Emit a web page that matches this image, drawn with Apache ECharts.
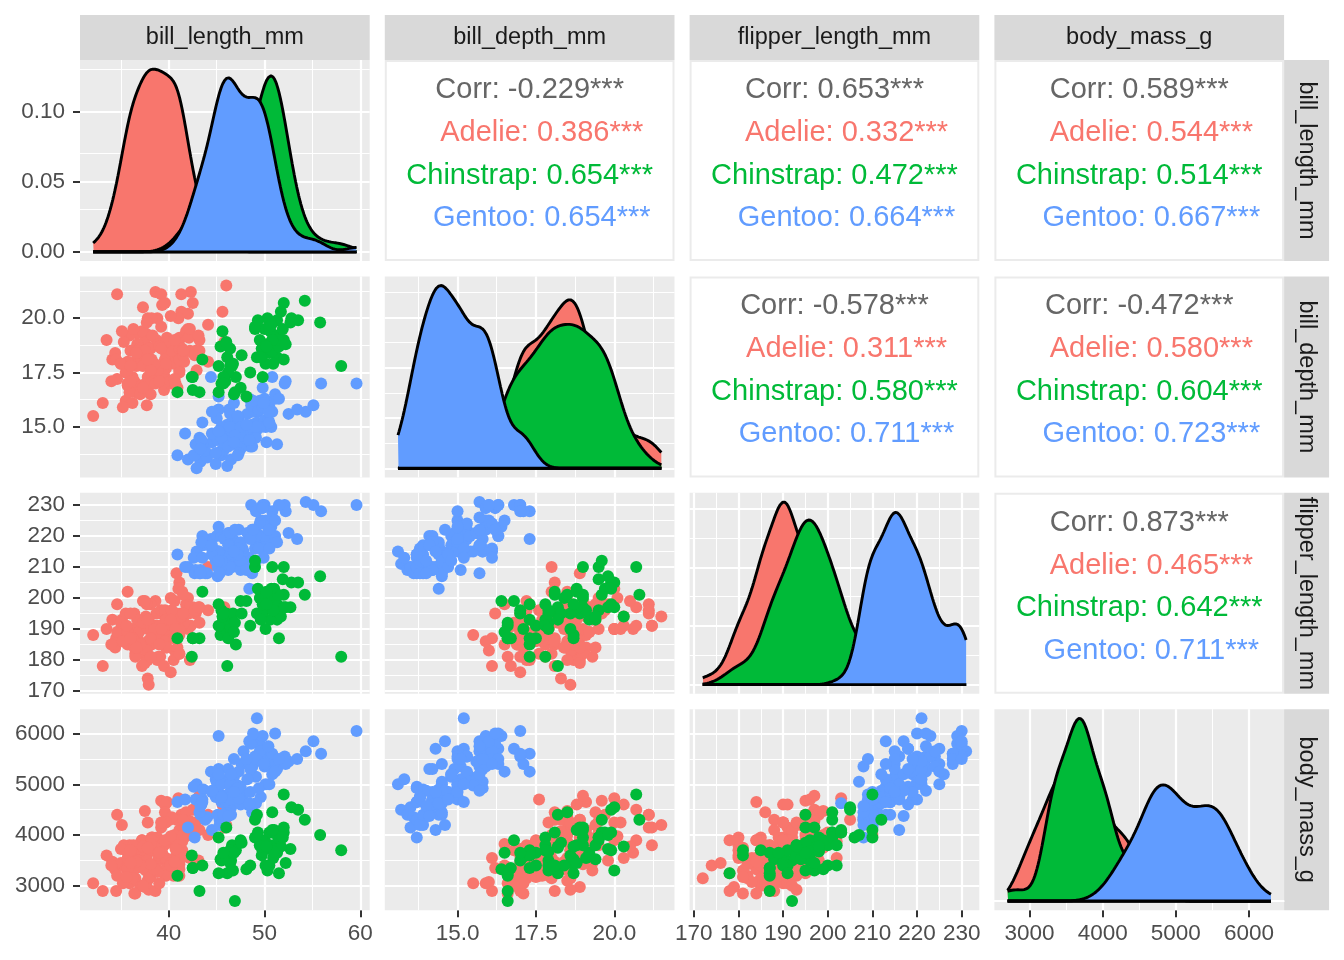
<!DOCTYPE html>
<html>
<head>
<meta charset="utf-8">
<script src="https://cdn.jsdelivr.net/npm/echarts@6/dist/echarts.min.js"></script>
<style>html,body{margin:0;padding:0;background:#fff}#c{width:1344px;height:960px}</style>
</head>
<body>
<div id="c"></div>
<script>
const FONT = '"Liberation Sans", Arial, Helvetica, sans-serif';
const VARS = ['bill_length_mm', 'bill_depth_mm', 'flipper_length_mm', 'body_mass_g'];
const SPECIES = ['Adelie', 'Chinstrap', 'Gentoo'];
const COLORS = { Adelie: '#F8766D', Chinstrap: '#00BA38', Gentoo: '#619CFF' };

// ---- Adelie ----
const adelieBillLength = [39.1,39.5,40.3,36.7,39.3,38.9,39.2,34.1,42.0,37.8,37.8,41.1,38.6,34.6,36.6,38.7,42.5,34.4,46.0,37.8,37.7,35.9,38.2,38.8,35.3,40.6,40.5,37.9,40.5,39.5,37.2,39.5,40.9,36.4,39.2,38.8,42.2,37.6,39.8,36.5,40.8,36.0,44.1,37.0,39.6,41.1,37.5,36.0,42.3,39.6,40.1,35.0,42.0,34.5,41.4,39.0,40.6,36.5,37.6,35.7,41.3,37.6,41.1,36.4,41.6,35.5,41.1,35.9,41.8,33.5,39.7,39.6,45.8,35.5,42.8,40.9,37.2,36.2,42.1,34.6,42.9,36.7,35.1,37.3,41.3,36.3,36.9,38.3,38.9,35.7,41.1,34.0,39.6,36.2,40.8,38.1,40.3,33.1,43.2,35.0,41.0,37.7,37.8,37.9,39.7,38.6,38.2,38.1,43.2,38.1,45.6,39.7,42.2,39.6,42.7,38.6,37.3,35.7,41.1,36.2,37.7,40.2,41.4,35.2,40.6,38.8,41.5,39.0,44.1,38.5,43.1,36.8,37.5,38.1,41.1,35.6,40.2,37.0,39.7,40.2,40.6,32.1,40.7,37.3,39.0,39.2,36.6,36.0,37.8,36.0,41.5];
const adelieBillDepth = [18.7,17.4,18.0,19.3,20.6,17.8,19.6,18.1,20.2,17.1,17.3,17.6,21.2,21.1,17.8,19.0,20.7,18.4,21.5,18.3,18.7,19.2,18.1,17.2,18.9,18.6,17.9,18.6,18.9,16.7,18.1,17.8,18.9,17.0,21.1,20.0,18.5,19.3,19.1,18.0,18.4,18.5,19.7,16.9,18.8,19.0,18.9,17.9,21.2,17.7,18.9,17.9,19.5,18.1,18.6,17.5,18.8,16.6,19.1,16.9,21.1,17.0,18.2,17.1,18.0,16.2,19.1,16.6,19.4,19.0,18.4,17.2,18.9,17.5,18.5,16.8,19.4,16.1,19.1,17.2,17.6,18.8,19.4,17.8,20.3,19.5,18.6,19.2,18.8,18.0,18.1,17.1,18.1,17.3,18.9,18.6,18.5,16.1,18.5,17.9,20.0,16.0,20.0,18.6,18.9,17.2,20.0,17.0,19.0,16.5,20.3,17.7,19.5,20.7,18.3,17.0,20.5,17.0,18.6,17.2,19.8,17.0,18.5,15.9,19.0,17.6,18.3,17.1,18.0,17.9,19.2,18.5,18.5,17.6,17.5,17.5,20.1,16.5,17.9,17.1,17.2,15.5,17.0,16.8,18.7,18.6,18.4,17.8,18.1,17.1,18.5];
const adelieFlipperLength = [181,186,195,193,190,181,195,193,190,186,180,182,191,198,185,195,197,184,194,174,180,189,185,180,187,183,187,172,180,178,178,188,184,195,196,190,180,181,184,182,195,186,196,185,190,182,179,190,191,186,188,190,200,187,191,186,193,181,194,185,195,185,192,184,192,195,188,190,198,190,190,196,197,190,195,191,184,187,195,189,196,187,193,191,194,190,189,189,190,202,205,185,186,187,208,190,196,178,192,192,203,183,190,193,184,199,190,181,197,198,191,193,197,191,196,188,199,189,189,187,198,176,202,186,199,191,195,191,210,190,197,193,199,187,190,191,200,185,193,193,187,188,190,192,185,190,184,195,193,187,201];
const adelieBodyMass = [3750,3800,3250,3450,3650,3625,4675,3475,4250,3300,3700,3200,3800,4400,3700,3450,4500,3325,4200,3400,3600,3800,3950,3800,3800,3550,3200,3150,3950,3250,3900,3300,3900,3325,4150,3950,3550,3300,4650,3150,3900,3100,4400,3000,4600,3425,2975,3450,4150,3500,4300,3450,4050,2900,3700,3550,3800,2850,3750,3150,4400,3600,4050,2850,3950,3350,4100,3050,4450,3600,3900,3550,4150,3700,4250,3700,3900,3550,4000,3200,4700,3800,4200,3350,3550,3800,3500,3950,3600,3550,4300,3400,4450,3300,4300,3700,4350,2900,4100,3725,4725,3075,4250,2925,3550,3750,3900,3175,4775,3825,4600,3200,4275,3900,4075,2900,3775,3350,3325,3150,3500,3450,3875,3050,4000,3275,4300,3050,4000,3325,3500,3500,4475,3425,3900,3175,3975,3400,4250,3400,3475,3050,3725,3000,3650,4250,3475,3450,3750,3700,4000];

// ---- Gentoo ----
const gentooBillLength = [46.1,50.0,48.7,50.0,47.6,46.5,45.4,46.7,43.3,46.8,40.9,49.0,45.5,48.4,45.8,49.3,42.0,49.2,46.2,48.7,50.2,45.1,46.5,46.3,42.9,46.1,44.5,47.8,48.2,50.0,47.3,42.8,45.1,59.6,49.1,48.4,42.6,44.4,44.0,48.7,42.7,49.6,45.3,49.6,50.5,43.6,45.5,50.5,44.9,45.2,46.6,48.5,45.1,50.1,46.5,45.0,43.8,45.5,43.2,50.4,45.3,46.2,45.7,54.3,45.8,49.8,46.2,49.5,43.5,50.7,47.7,46.4,48.2,46.5,46.4,48.6,47.5,51.1,45.2,45.2,49.1,52.5,47.4,50.0,44.9,50.8,43.4,51.3,47.5,52.1,47.5,52.2,45.5,49.5,44.5,50.8,49.4,46.9,48.4,51.1,48.5,55.9,47.2,49.1,47.3,46.8,41.7,53.4,43.3,48.1,50.5,49.8,43.5,51.5,46.2,55.1,44.5,48.8,47.2,46.8,50.4,45.2,49.9];
const gentooBillDepth = [13.2,16.3,14.1,15.2,14.5,13.5,14.6,15.3,13.4,15.4,13.7,16.1,13.7,14.6,14.6,15.7,13.5,15.2,14.5,15.1,14.3,14.5,14.5,15.8,13.1,15.1,14.3,15.0,14.3,15.3,15.3,14.2,14.5,17.0,14.8,16.3,13.7,17.3,13.6,15.7,13.7,16.0,13.7,15.0,15.9,13.9,13.9,15.9,13.3,15.8,14.2,14.1,14.4,15.0,14.4,15.4,13.9,15.0,14.5,15.3,13.8,14.9,13.9,15.7,14.2,16.8,14.4,16.2,14.2,15.0,15.0,15.6,15.6,14.8,15.0,16.0,14.2,16.3,13.8,16.4,14.5,15.6,14.6,15.9,13.8,17.3,14.4,14.2,14.0,17.0,15.0,17.1,14.5,16.1,14.7,15.7,15.8,14.6,14.4,16.5,15.0,17.0,15.5,15.0,13.8,16.1,14.7,15.8,14.0,15.1,15.2,15.9,15.2,16.3,14.1,16.0,15.7,16.2,13.7,14.3,15.7,14.8,16.1];
const gentooFlipperLength = [211,230,210,218,215,210,211,219,209,215,214,216,214,213,210,217,210,221,209,222,218,215,213,215,215,215,216,215,210,220,222,209,207,230,220,220,213,219,208,208,208,225,210,216,222,217,210,225,213,215,210,220,210,225,217,220,208,220,208,224,208,221,214,231,219,230,214,229,220,223,216,221,221,217,216,230,209,220,215,223,212,221,212,224,212,228,218,218,212,230,218,228,212,224,214,226,216,222,203,225,219,228,215,228,216,215,210,219,208,209,216,229,213,230,217,230,217,222,214,215,222,212,213];
const gentooBodyMass = [4500,5700,4450,5700,5400,4550,4800,5200,4400,5150,4650,5550,4650,5850,4200,5850,4150,6300,4800,5350,5700,5000,4400,5050,5000,5100,4100,5650,4600,5550,5250,4700,5050,6050,5150,5400,4950,5250,4350,5350,3950,5700,4300,4750,5550,4900,4200,5400,5100,5300,4850,5300,4400,5000,4900,5050,4300,5000,4450,5550,4200,5300,4400,5650,4700,5700,4650,5800,4700,5550,4750,5000,5100,5200,4700,5800,4600,6000,4750,5950,4625,5450,4725,5350,4750,5600,4600,5300,4875,5550,4950,5400,4750,5650,4850,5200,4925,4875,4625,5250,4850,5600,4975,5500,4725,5500,4700,5500,4575,5500,5000,5950,4650,5500,4375,5850,4875,6000,4925,4850,5750,5200,5400];

// ---- Chinstrap ----
const chinstrapBillLength = [46.5,50.0,51.3,45.4,52.7,45.2,46.1,51.3,46.0,51.3,46.6,51.7,47.0,52.0,45.9,50.5,50.3,58.0,46.4,49.2,42.4,48.5,43.2,50.6,46.7,52.0,50.5,49.5,46.4,52.8,40.9,54.2,42.5,51.0,49.7,47.5,47.6,52.0,46.9,53.5,49.0,46.2,50.9,45.5,50.9,50.8,50.1,49.0,51.5,49.8,48.1,51.4,45.7,50.7,42.5,52.2,45.2,49.3,50.2,45.6,51.9,46.8,45.7,55.8,43.5,49.6,50.8,50.2];
const chinstrapBillDepth = [17.9,19.5,19.2,18.7,19.8,17.8,18.2,18.2,18.9,19.9,17.8,20.3,17.3,18.1,17.1,19.6,20.0,17.8,18.6,18.2,17.3,17.5,16.6,19.4,17.9,19.0,18.4,19.0,17.8,20.0,16.6,20.8,16.7,18.8,18.6,16.8,18.3,20.7,16.6,19.9,19.5,17.5,19.1,17.0,17.9,18.5,17.9,19.6,18.7,17.3,16.4,19.0,17.3,19.7,17.3,18.8,16.6,19.9,18.8,19.4,19.5,16.5,17.0,19.8,18.1,18.2,19.0,18.7];
const chinstrapFlipperLength = [192,196,193,188,197,198,178,197,195,198,193,194,185,201,190,201,197,181,190,195,181,191,187,193,195,197,200,200,191,205,187,201,187,203,195,199,195,210,192,205,210,187,196,196,196,201,190,212,187,198,199,201,193,203,187,197,191,203,202,194,206,189,195,207,202,193,210,198];
const chinstrapBodyMass = [3500,3900,3650,3525,3725,3950,3250,3750,4150,3700,3800,3775,3700,4050,3575,4050,3300,3700,3450,4400,3600,3400,2900,3800,3300,4150,3400,3800,3700,4550,3200,4300,3350,4100,3600,3900,3850,4800,2700,4500,3950,3650,3550,3500,3675,4450,3400,4300,3250,3675,3325,3950,3600,4050,3350,3450,3250,4050,3800,3525,3950,3650,3650,4000,3400,3775,4100,3775];

// ---- axis breaks (tick values and labels) ----
const breaksBillLength = [40, 50, 60];
const labelsBillLength = ['40', '50', '60'];
const minorBillLength = [35, 45, 55];
const breaksBillDepth = [15, 17.5, 20];
const labelsBillDepth = ['15.0', '17.5', '20.0'];
const minorBillDepth = [13.75, 16.25, 18.75, 21.25];
const breaksFlipper = [170, 180, 190, 200, 210, 220, 230];
const labelsFlipper = ['170', '180', '190', '200', '210', '220', '230'];
const minorFlipper = [175, 185, 195, 205, 215, 225];
const breaksMass = [3000, 4000, 5000, 6000];
const labelsMass = ['3000', '4000', '5000', '6000'];
const minorMass = [3500, 4500, 5500];

// density panel y breaks
const densBreaksBillLength = [0, 0.05, 0.10];
const densLabelsBillLength = ['0.00', '0.05', '0.10'];
const densMinorBillLength = [0.025, 0.075, 0.125];
const densBreaksBillDepth = [0, 0.1, 0.2, 0.3];
const densMinorBillDepth = [0.05, 0.15, 0.25, 0.35];
const densBreaksFlipper = [0, 0.02, 0.04, 0.06];
const densMinorFlipper = [0.01, 0.03, 0.05];
const densBreaksMass = [0, 0.00025, 0.0005, 0.00075];
const densMinorMass = [0.000125, 0.000375, 0.000625, 0.000875];

// correlation text (pairs: row, col)
const corrPairs = [[0,1],[0,2],[0,3],[1,2],[1,3],[2,3]];
const corrOverall = ['-0.229', '0.653', '0.589', '-0.578', '-0.472', '0.873'];
const corrAdelie = ['0.386', '0.332', '0.544', '0.311', '0.580', '0.465'];
const corrChinstrap = ['0.654', '0.472', '0.514', '0.580', '0.604', '0.642'];
const corrGentoo = ['0.654', '0.664', '0.667', '0.711', '0.723', '0.711'];
const corrStars = '***';

// ---------- build ----------
const speciesCols = {
  Adelie: [adelieBillLength, adelieBillDepth, adelieFlipperLength, adelieBodyMass],
  Chinstrap: [chinstrapBillLength, chinstrapBillDepth, chinstrapFlipperLength, chinstrapBodyMass],
  Gentoo: [gentooBillLength, gentooBillDepth, gentooFlipperLength, gentooBodyMass]
};
const axisBreaks = [breaksBillLength, breaksBillDepth, breaksFlipper, breaksMass];
const axisLabels = [labelsBillLength, labelsBillDepth, labelsFlipper, labelsMass];
const axisMinor = [minorBillLength, minorBillDepth, minorFlipper, minorMass];
const densBreaks = [densBreaksBillLength, densBreaksBillDepth, densBreaksFlipper, densBreaksMass];
const densMinor = [densMinorBillLength, densMinorBillDepth, densMinorFlipper, densMinorMass];

// layout
const PX0 = 80, PSTEP = 304.8, PW = 289.7;
const PY0 = 60, RSTEP = 216.4, PH = 201;
const colLeft = j => PX0 + j * PSTEP;
const rowTop = i => PY0 + i * RSTEP;

// ranges (data range expanded by 5%)
const ranges = VARS.map((v, k) => {
  const all = [].concat(...SPECIES.map(s => speciesCols[s][k]));
  const lo = Math.min(...all), hi = Math.max(...all);
  const pad = 0.05 * (hi - lo);
  return { lo, hi, min: lo - pad, max: hi + pad };
});

function quantile(sorted, p) {
  const h = (sorted.length - 1) * p;
  const f = Math.floor(h);
  const c = Math.min(f + 1, sorted.length - 1);
  return sorted[f] + (h - f) * (sorted[c] - sorted[f]);
}
function kde(vals, from, to, n) {
  const N = vals.length;
  const mean = vals.reduce((a, b) => a + b, 0) / N;
  const sd = Math.sqrt(vals.reduce((a, b) => a + (b - mean) * (b - mean), 0) / (N - 1));
  const s = vals.slice().sort((a, b) => a - b);
  const iqr = quantile(s, 0.75) - quantile(s, 0.25);
  const lo = Math.min(sd, iqr / 1.34);
  const bw = 0.9 * lo * Math.pow(N, -0.2);
  const out = [];
  const c = 1 / (N * bw * Math.sqrt(2 * Math.PI));
  for (let k = 0; k < n; k++) {
    const x = from + (to - from) * k / (n - 1);
    let sum = 0;
    for (let m = 0; m < N; m++) {
      const z = (x - vals[m]) / bw;
      sum += Math.exp(-0.5 * z * z);
    }
    out.push([x, sum * c]);
  }
  return out;
}
const densities = VARS.map((v, k) => {
  const r = ranges[k];
  const d = {};
  let mx = 0;
  SPECIES.forEach(s => {
    d[s] = kde(speciesCols[s][k], r.lo, r.hi, 512);
    d[s].forEach(p => { if (p[1] > mx) mx = p[1]; });
  });
  return { d, max: mx };
});

function labelFormatter(breaks, labels) {
  return function (val) {
    for (let q = 0; q < breaks.length; q++) {
      if (Math.abs(breaks[q] - val) <= 1e-9 * Math.max(1, Math.abs(breaks[q]))) return labels[q];
    }
    return '';
  };
}

const grids = [], xAxes = [], yAxes = [], series = [];
const LABEL_STYLE = { color: '#4D4D4D', fontSize: 22.5, fontFamily: FONT };
const TICK_STYLE = { color: '#333333', width: 2 };

for (let i = 0; i < 4; i++) {
  for (let j = 0; j <= i; j++) {
    const gi = grids.length;
    grids.push({
      left: colLeft(j), top: rowTop(i), width: PW, height: PH,
      show: true, backgroundColor: '#EBEBEB', borderWidth: 0,
      containLabel: false, outerBoundsMode: 'none'
    });
    const xr = ranges[j];
    const showX = i === 3;
    xAxes.push({
      gridIndex: gi, type: 'value', min: xr.min, max: xr.max,
      axisLine: { show: false, onZero: false },
      splitLine: { show: false },
      axisTick: { show: showX, customValues: axisBreaks[j], length: 7, lineStyle: TICK_STYLE },
      axisLabel: Object.assign({ show: showX, customValues: axisBreaks[j], formatter: labelFormatter(axisBreaks[j], axisLabels[j]), margin: 12 }, LABEL_STYLE)
    });
    let yMin, yMax, yBreaks, yLabels, yMinor;
    if (i === j) {
      const M = densities[i].max;
      yMin = -0.05 * M; yMax = 1.05 * M;
      yBreaks = densBreaks[i]; yMinor = densMinor[i];
      yLabels = i === 0 ? densLabelsBillLength : yBreaks.map(String);
    } else {
      yMin = ranges[i].min; yMax = ranges[i].max;
      yBreaks = axisBreaks[i]; yLabels = axisLabels[i]; yMinor = axisMinor[i];
    }
    const showY = j === 0;
    yAxes.push({
      gridIndex: gi, type: 'value', min: yMin, max: yMax,
      axisLine: { show: false, onZero: false },
      splitLine: { show: false },
      axisTick: { show: showY, customValues: yBreaks, length: 7, lineStyle: TICK_STYLE },
      axisLabel: Object.assign({ show: showY, customValues: yBreaks, formatter: labelFormatter(yBreaks, yLabels), margin: 15 }, LABEL_STYLE)
    });

    // grid lines
    const inX = v => v > xr.min && v < xr.max;
    const inY = v => v > yMin && v < yMax;
    const ml = [];
    axisMinor[j].filter(inX).forEach(v => ml.push({ xAxis: v, lineStyle: { width: 1.1 } }));
    yMinor.filter(inY).forEach(v => ml.push({ yAxis: v, lineStyle: { width: 1.1 } }));
    axisBreaks[j].filter(inX).forEach(v => ml.push({ xAxis: v, lineStyle: { width: 2.2 } }));
    yBreaks.filter(inY).forEach(v => ml.push({ yAxis: v, lineStyle: { width: 2.2 } }));
    series.push({
      type: 'scatter', xAxisIndex: gi, yAxisIndex: gi, data: [], z: 1, silent: true,
      markLine: {
        z: 1, silent: true, symbol: ['none', 'none'], label: { show: false }, animation: false,
        lineStyle: { color: '#FFFFFF', type: 'solid' }, emphasis: { disabled: true },
        data: ml
      }
    });

    if (i === j) {
      SPECIES.forEach((s, si) => {
        series.push({
          type: 'line', name: s, xAxisIndex: gi, yAxisIndex: gi, z: 10 + si,
          data: densities[i].d[s], showSymbol: false, symbol: 'none', smooth: false,
          lineStyle: { color: '#000000', width: 2.9 },
          itemStyle: { color: COLORS[s] },
          areaStyle: { color: COLORS[s], opacity: 1 },
          silent: true
        });
        series.push({
          type: 'line', xAxisIndex: gi, yAxisIndex: gi, z: 10 + si,
          data: [[ranges[i].lo, 0], [ranges[i].hi, 0]], showSymbol: false, symbol: 'none',
          lineStyle: { color: '#000000', width: 2.9 }, silent: true
        });
      });
    } else {
      ['Adelie', 'Gentoo', 'Chinstrap'].forEach((s, si) => {
        const xs = speciesCols[s][j], ys = speciesCols[s][i];
        series.push({
          type: 'scatter', name: s, xAxisIndex: gi, yAxisIndex: gi, z: 10 + si,
          symbol: 'circle', symbolSize: 12,
          itemStyle: { color: COLORS[s], borderWidth: 0, opacity: 1 },
          data: xs.map((x, n) => [x, ys[n]]), silent: true
        });
      });
    }
  }
}

// graphics: strips and correlation panels
const graphics = [];
for (let j = 0; j < 4; j++) {
  graphics.push({ type: 'rect', shape: { x: colLeft(j), y: 15, width: PW, height: 45 }, style: { fill: '#D9D9D9' }, silent: true });
  graphics.push({ type: 'text', x: colLeft(j) + PW / 2, y: 38, silent: true,
    style: { text: VARS[j], fill: '#1A1A1A', font: '23.5px ' + FONT, textAlign: 'center', textVerticalAlign: 'middle', align: 'center', verticalAlign: 'middle' } });
}
const stripX = colLeft(3) + PW;
for (let i = 0; i < 4; i++) {
  graphics.push({ type: 'rect', shape: { x: stripX, y: rowTop(i), width: 45, height: PH }, style: { fill: '#D9D9D9' }, silent: true });
  graphics.push({ type: 'text', x: stripX + 22, y: rowTop(i) + PH / 2, rotation: -Math.PI / 2, silent: true,
    style: { text: VARS[i], fill: '#1A1A1A', font: '23.5px ' + FONT, textAlign: 'center', textVerticalAlign: 'middle', align: 'center', verticalAlign: 'middle' } });
}
const pad = name => ' '.repeat(9 - name.length) + name;
const lineOffsets = [30, 73, 115.5, 158];
corrPairs.forEach((pr, k) => {
  const i = pr[0], j = pr[1];
  const x0 = colLeft(j), y0 = rowTop(i);
  graphics.push({ type: 'rect', shape: { x: x0 + 1, y: y0 + 1, width: PW - 2, height: PH - 2 }, style: { fill: '#FFFFFF', stroke: '#EBEBEB', lineWidth: 2 }, silent: true });
  const lines = [
    ['Corr: ' + corrOverall[k] + corrStars, '#666666'],
    [pad('Adelie') + ': ' + corrAdelie[k] + corrStars, COLORS.Adelie],
    [pad('Chinstrap') + ': ' + corrChinstrap[k] + corrStars, COLORS.Chinstrap],
    [pad('Gentoo') + ': ' + corrGentoo[k] + corrStars, COLORS.Gentoo]
  ];
  lines.forEach((ln, q) => {
    graphics.push({ type: 'text', x: x0 + PW / 2, y: y0 + lineOffsets[q], silent: true,
      style: { text: ln[0], fill: ln[1], font: '29px ' + FONT, textAlign: 'center', textVerticalAlign: 'middle', align: 'center', verticalAlign: 'middle' } });
  });
});

const chart = echarts.init(document.getElementById('c'), null, { renderer: 'canvas' });
chart.setOption({
  animation: false,
  backgroundColor: '#FFFFFF',
  textStyle: { fontFamily: FONT },
  grid: grids, xAxis: xAxes, yAxis: yAxes, series: series,
  graphic: { elements: graphics }
});
</script>
</body>
</html>
